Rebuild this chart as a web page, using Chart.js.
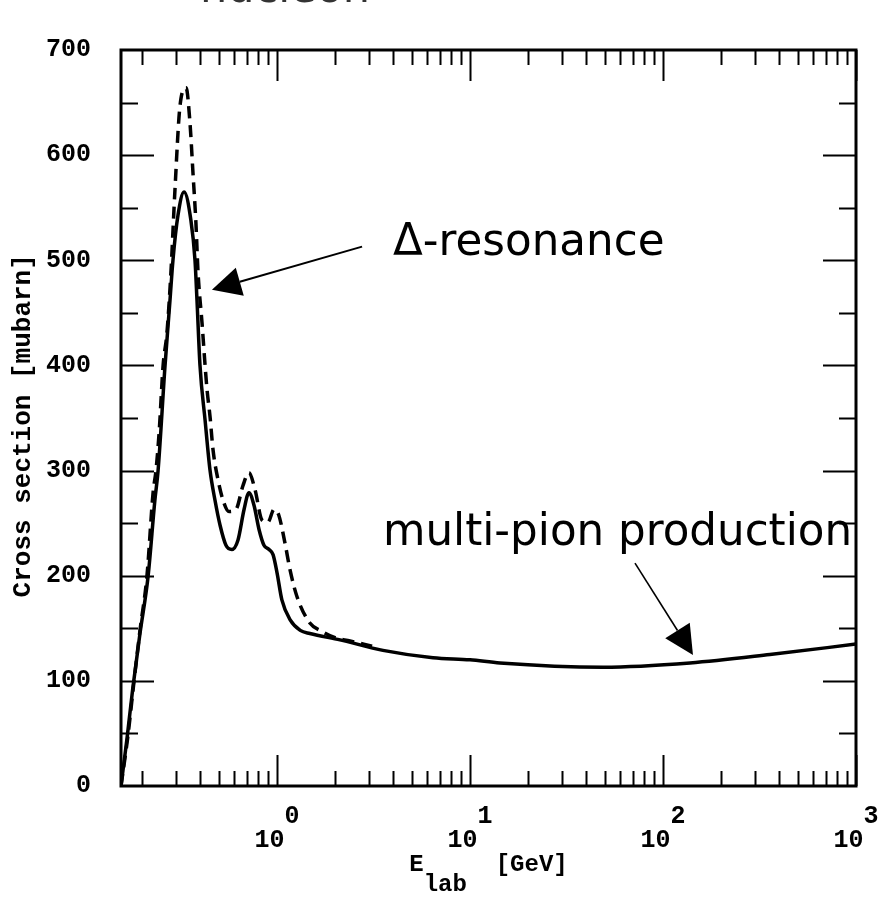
<!DOCTYPE html>
<html>
<head>
<meta charset="utf-8">
<title>Cross section vs E lab</title>
<script src="https://cdn.jsdelivr.net/npm/chart.js@4.4.0/dist/chart.umd.min.js"></script>
<style>
  html, body { margin: 0; padding: 0; background: #fff; }
  #wrap { width: 881px; height: 899px; }
</style>
</head>
<body>
<div id="wrap"><canvas id="xsec"></canvas></div>
<script>
// E_lab in GeV, cross section in mubarn
const solidE = [0.1555, 0.167, 0.179, 0.195, 0.215, 0.233, 0.242, 0.263, 0.279, 0.289, 0.307, 0.330, 0.358, 0.376, 0.385, 0.399,
  0.424, 0.450, 0.477, 0.507, 0.544, 0.584, 0.628, 0.675, 0.716, 0.760, 0.807, 0.856, 0.909, 0.954, 1.00, 1.06, 1.17, 1.32,
  1.48, 2.12, 3.54, 6.43, 10, 14.3, 48.9, 138, 358, 1000];
const solidSigma = [0, 45, 93, 145, 200, 272, 300, 400, 462, 500, 543, 565, 538, 500, 462, 400,
  348, 300, 272, 248, 229, 225, 234, 263, 279, 267, 244, 229, 225, 220, 203, 177, 158, 148,
  145, 139, 129, 122, 120, 117, 113, 117, 125, 135];

const dashedE = [0.1555, 0.169, 0.182, 0.195, 0.212, 0.228, 0.236, 0.245, 0.257, 0.269, 0.282, 0.296, 0.314, 0.338,
  0.354, 0.367, 0.380, 0.390, 0.409, 0.424, 0.434, 0.450, 0.466, 0.495, 0.525, 0.564, 0.613, 0.667, 0.716, 0.769,
  0.836, 0.898, 0.965, 1.02, 1.10, 1.17, 1.27, 1.48, 1.71, 2.00, 2.39, 3.11];
const dashedSigma = [0, 48, 101, 148, 200, 279, 300, 336, 400, 431, 488, 567, 646, 664,
  631, 583, 536, 488, 440, 400, 377, 351, 320, 291, 272, 261, 263, 286, 298, 282,
  253, 251, 263, 258, 231, 205, 180, 155, 147, 141, 138, 133];

// axis ticks
const decades = [0.1, 1, 10, 100];
const xMajor = [1, 10, 100, 1000];
const xExponent = ['0', '1', '2', '3'];
const yLabelled = [0, 100, 200, 300, 400, 500, 600, 700];

const xTicks = [];
decades.forEach(d => { for (let m = 1; m <= 9; m++) { if (d * m > 0.16) xTicks.push(+(d * m).toPrecision(3)); } });
xTicks.push(1000);

// annotations, in data coordinates
const notes = [
  { text: '\u0394-resonance', E: 3.99, sigma: 505 },
  { text: 'multi-pion production', E: 3.54, sigma: 229 }
];
const arrows = [
  { fromE: 2.76, fromS: 513, toE: 0.46, toS: 472, width: 2 },
  { fromE: 71.6, fromS: 212, toE: 143, toS: 124.6, width: 1.6 }
];

const mono = "'Liberation Mono', 'Courier New', monospace";
const hand = "'DejaVu Sans', sans-serif";

const isMajor = v => xMajor.some(p => Math.abs(v / p - 1) < 1e-6);

// frame box with inward ticks on all four sides, plus the notes and arrows
const frame = {
  id: 'frame',
  afterDraw(chart) {
    const { ctx, chartArea: a, scales: { x, y } } = chart;
    ctx.save();
    ctx.strokeStyle = '#000';
    ctx.lineCap = 'butt';

    ctx.lineWidth = 2;
    ctx.beginPath();
    xTicks.forEach(v => {
      const px = Math.round(x.getPixelForValue(v)) + 0.5;
      const len = isMajor(v) ? 31 : 15;
      ctx.moveTo(px, a.bottom); ctx.lineTo(px, a.bottom - len);
      ctx.moveTo(px, a.top); ctx.lineTo(px, a.top + len);
    });
    for (let v = 50; v < 700; v += 50) {
      const py = Math.round(y.getPixelForValue(v)) + 0.5;
      const len = v % 100 === 0 ? 33 : 17;
      ctx.moveTo(a.left, py); ctx.lineTo(a.left + len, py);
      ctx.moveTo(a.right, py); ctx.lineTo(a.right - len, py);
    }
    ctx.stroke();

    ctx.lineWidth = 3;
    ctx.strokeRect(a.left, a.top, a.right - a.left, a.bottom - a.top);

    // arrows
    ctx.fillStyle = '#000';
    arrows.forEach(ar => {
      const x0 = x.getPixelForValue(ar.fromE), y0 = y.getPixelForValue(ar.fromS);
      const x1 = x.getPixelForValue(ar.toE), y1 = y.getPixelForValue(ar.toS);
      const ang = Math.atan2(y1 - y0, x1 - x0);
      const hl = 29, hw = 14.5;
      const bx = x1 - hl * Math.cos(ang), by = y1 - hl * Math.sin(ang);
      ctx.lineWidth = ar.width;
      ctx.beginPath();
      ctx.moveTo(x0, y0); ctx.lineTo(bx, by);
      ctx.stroke();
      ctx.beginPath();
      ctx.moveTo(x1, y1);
      ctx.lineTo(bx + hw * Math.sin(ang), by - hw * Math.cos(ang));
      ctx.lineTo(bx - hw * Math.sin(ang), by + hw * Math.cos(ang));
      ctx.closePath();
      ctx.fill();
    });

    // notes
    ctx.font = '43.6px ' + hand;
    ctx.textAlign = 'left';
    ctx.textBaseline = 'alphabetic';
    notes.forEach(n => {
      ctx.fillText(n.text, x.getPixelForValue(n.E), y.getPixelForValue(n.sigma));
    });

    // cut-off heading of the slide above the plot
    ctx.fillStyle = '#333';
    ctx.font = '43px ' + hand;
    ctx.fillText('nucleon', 200, 2);
    ctx.restore();
  }
};

new Chart(document.getElementById('xsec'), {
  type: 'line',
  data: {
    datasets: [
      {
        label: 'solid',
        data: solidE.map((e, i) => ({ x: e, y: solidSigma[i] })),
        borderColor: '#000',
        borderWidth: 3.5,
        pointRadius: 0,
        cubicInterpolationMode: 'monotone',
        fill: false
      },
      {
        label: 'dashed',
        data: dashedE.map((e, i) => ({ x: e, y: dashedSigma[i] })),
        borderColor: '#000',
        borderWidth: 3.5,
        borderDash: [12, 7],
        pointRadius: 0,
        cubicInterpolationMode: 'monotone',
        fill: false
      }
    ]
  },
  options: {
    responsive: true,
    maintainAspectRatio: false,
    animation: false,
    layout: { padding: { top: 50, right: 25, left: 0, bottom: 0 } },
    plugins: {
      legend: { display: false },
      tooltip: { enabled: false }
    },
    scales: {
      x: {
        type: 'logarithmic',
        bounds: 'data',
        min: 0.1555,
        max: 1000,
        afterBuildTicks: axis => { axis.ticks = xTicks.map(v => ({ value: v })); },
        afterFit: axis => { axis.height = 113; axis.paddingLeft = 0; axis.paddingRight = 0; },
        grid: { display: false, drawTicks: false },
        border: { display: false },
        ticks: {
          autoSkip: false,
          maxRotation: 0,
          minRotation: 0,
          padding: 19,
          color: '#000',
          font: { family: mono, size: 25, weight: 'bold', lineHeight: 0.95 },
          callback: v => {
            const i = xMajor.findIndex(p => Math.abs(v / p - 1) < 1e-6);
            return i < 0 ? '' : ['  ' + xExponent[i], '10 '];
          }
        },
        title: {
          display: true,
          text: ['E     [GeV]', ' lab       '],
          color: '#000',
          padding: { top: 0, bottom: 4 },
          font: { family: mono, size: 24, weight: 'bold', lineHeight: '20px' }
        }
      },
      y: {
        min: 0,
        max: 700,
        afterFit: axis => { axis.width = 121; axis.paddingTop = 0; axis.paddingBottom = 0; },
        grid: { display: false, drawTicks: false },
        border: { display: false },
        ticks: {
          stepSize: 50,
          padding: 30,
          color: '#000',
          font: { family: mono, size: 25, weight: 'bold' },
          callback: v => yLabelled.includes(v) ? String(v) : ''
        },
        title: {
          display: true,
          text: 'Cross section [mubarn] ',
          color: '#000',
          padding: { top: 8, bottom: 0 },
          font: { family: mono, size: 26, weight: 'bold' }
        }
      }
    }
  },
  plugins: [frame]
});
</script>
</body>
</html>
